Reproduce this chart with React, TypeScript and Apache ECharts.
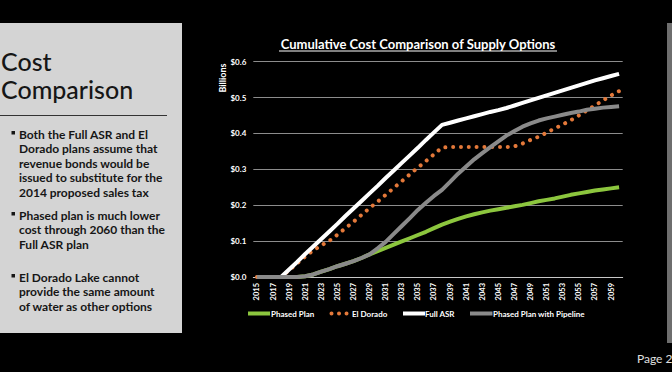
import React, { useEffect, useRef } from 'react';
import * as echarts from 'echarts';

const years = [
  2015, 2016, 2017, 2018, 2019, 2020, 2021, 2022, 2023, 2024,
  2025, 2026, 2027, 2028, 2029, 2030, 2031, 2032, 2033, 2034,
  2035, 2036, 2037, 2038, 2039, 2040, 2041, 2042, 2043, 2044,
  2045, 2046, 2047, 2048, 2049, 2050, 2051, 2052, 2053, 2054,
  2055, 2056, 2057, 2058, 2059, 2060,
];
const tickYears = [
  2015, 2017, 2019, 2021, 2023, 2025, 2027, 2029, 2031, 2033, 2035, 2037,
  2039, 2041, 2043, 2045, 2047, 2049, 2051, 2053, 2055, 2057, 2059,
];
const yTicks = [0, 0.1, 0.2, 0.3, 0.4, 0.5, 0.6];

const phasedPlan = [
  0, 0, 0, 0, 0, 0, 0.002, 0.007, 0.015, 0.022,
  0.030, 0.037, 0.044, 0.053, 0.063, 0.072, 0.081, 0.090, 0.099, 0.108,
  0.117, 0.126, 0.136, 0.146, 0.154, 0.162, 0.169, 0.175, 0.180, 0.185,
  0.189, 0.193, 0.197, 0.201, 0.206, 0.211, 0.215, 0.219, 0.224, 0.229,
  0.233, 0.237, 0.241, 0.244, 0.247, 0.250,
];
const elDorado = [
  0, 0, 0, 0, 0.019, 0.038, 0.057, 0.074, 0.088, 0.101,
  0.118, 0.136, 0.154, 0.173, 0.192, 0.210, 0.229, 0.248, 0.267, 0.286,
  0.305, 0.323, 0.342, 0.361, 0.362, 0.362, 0.362, 0.362, 0.362, 0.362,
  0.362, 0.362, 0.364, 0.372, 0.382, 0.391, 0.402, 0.414, 0.425, 0.437,
  0.450, 0.464, 0.478, 0.492, 0.506, 0.518,
];
const fullASR = [
  0, 0, 0, 0, 0.021, 0.042, 0.064, 0.085, 0.106, 0.127,
  0.148, 0.170, 0.191, 0.212, 0.233, 0.254, 0.276, 0.297, 0.318, 0.339,
  0.360, 0.382, 0.403, 0.424, 0.430, 0.436, 0.442, 0.448, 0.454, 0.460,
  0.465, 0.471, 0.478, 0.485, 0.492, 0.499, 0.506, 0.513, 0.520, 0.527,
  0.534, 0.541, 0.548, 0.554, 0.560, 0.566,
];
const phasedPipeline = [
  0, 0, 0, 0, 0, 0, 0.002, 0.007, 0.015, 0.022,
  0.030, 0.037, 0.044, 0.053, 0.063, 0.080, 0.098, 0.120, 0.142, 0.164,
  0.187, 0.207, 0.226, 0.243, 0.265, 0.288, 0.308, 0.328, 0.345, 0.362,
  0.378, 0.394, 0.407, 0.419, 0.428, 0.436, 0.442, 0.447, 0.452, 0.457,
  0.461, 0.466, 0.469, 0.472, 0.474, 0.476,
];

const seriesNames = ['Phased Plan', 'El Dorado', 'Full ASR', 'Phased Plan with Pipeline'];
const seriesColors = ['#8cc63e', '#e4793a', '#ffffff', '#8a8a8a'];

const chartTitle = 'Cumulative Cost Comparison of Supply Options';
const yAxisName = 'Billions';
const slideTitle = ['Cost', 'Comparison'];
const bullets = [
  [
    'Both the Full ASR and El',
    'Dorado plans assume that',
    'revenue bonds would be',
    'issued to substitute for the',
    '2014 proposed sales tax',
  ],
  ['Phased plan is much lower', 'cost through 2060 than the', 'Full ASR plan'],
  ['El Dorado Lake cannot', 'provide the same amount', 'of water as other options'],
];
const pageLabel = 'Page 2';

const FONT = 'Lato, "Open Sans", sans-serif';

function txt(x: number, y: number, text: string, size: number, color: string, weight: string, align = 'left', extra: any = {}) {
  return {
    type: 'text',
    x,
    y,
    silent: true,
    ...extra,
    style: {
      text,
      fill: color,
      font: `${weight} ${size}px ${FONT}`,
      align,
      verticalAlign: 'middle',
      textAlign: align,
      textVerticalAlign: 'middle',
    },
  };
}

export default function App() {
  const ref = useRef<HTMLDivElement>(null);
  useEffect(() => {
    const chart = echarts.init(ref.current!, null, { renderer: 'svg' });
    const pair = (vals: number[]) => years.map((y, i) => [y, vals[i]]);
    const dark = '#161616';

    const graphic: any[] = [];
    // left panel
    graphic.push({ type: 'rect', shape: { x: 0, y: 23, width: 182, height: 310 }, style: { fill: '#d4d4d4' }, silent: true });
    graphic.push(txt(1, 61, slideTitle[0], 25, dark, '500'));
    graphic.push(txt(1, 89, slideTitle[1], 25, dark, '500'));
    graphic.push({ type: 'line', shape: { x1: 0, y1: 115.5, x2: 167, y2: 115.5 }, style: { stroke: '#333', lineWidth: 1 }, silent: true });
    const groupStarts = [134, 215, 277];
    bullets.forEach((lines, g) => {
      const y0 = groupStarts[g];
      graphic.push({ type: 'rect', shape: { x: 11.5, y: y0 - 3, width: 3.5, height: 3.5 }, style: { fill: dark }, silent: true });
      lines.forEach((l, i) => graphic.push(txt(19, y0 + i * 14.6, l, 12, dark, 'bold')));
    });
    // right panel
    graphic.push({ type: 'rect', shape: { x: 667, y: 23, width: 5, height: 320 }, style: { fill: '#6e6e6e' }, silent: true });
    graphic.push(txt(637, 358, pageLabel, 12, '#e0e0e0', 'normal'));
    // chart title
    graphic.push(txt(418, 44, chartTitle, 13, '#ffffff', 'bold', 'center'));
    graphic.push({ type: 'line', shape: { x1: 279, y1: 51, x2: 557, y2: 51 }, style: { stroke: '#fff', lineWidth: 1 }, silent: true });
    // y axis name
    graphic.push(txt(222, 78, yAxisName, 9, '#ffffff', 'bold', 'center', { rotation: Math.PI / 2 }));
    // legend
    const legY = 313.5;
    const legItems = [
      { x1: 248, x2: 270, tx: 271 },
      { x1: 331.5, x2: 347, tx: 352 },
      { x1: 403, x2: 425, tx: 425 },
      { x1: 470, x2: 492.5, tx: 493 },
    ];
    legItems.forEach((it, i) => {
      const dotted = i === 1;
      graphic.push({
        type: 'line',
        silent: true,
        shape: { x1: it.x1, y1: legY, x2: it.x2, y2: legY },
        style: {
          stroke: seriesColors[i],
          lineWidth: 4,
          lineCap: dotted ? 'round' : 'butt',
          lineDash: dotted ? [0.01, 7.5] : null,
        },
      });
      graphic.push(txt(it.tx, legY, seriesNames[i], 8, '#ffffff', 'bold'));
    });

    const seriesData = [phasedPlan, elDorado, fullASR, phasedPipeline];

    chart.setOption({
      animation: false,
      backgroundColor: '#000000',
      grid: { left: 253.3, right: 49.3, top: 61.7, bottom: 95, containLabel: false },
      xAxis: {
        type: 'value',
        min: 2014.55,
        max: 2060.45,
        splitLine: { show: false },
        axisTick: { show: false },
        axisLine: { show: true, lineStyle: { color: '#c8c8c8', width: 1 } },
        axisLabel: {
          customValues: tickYears,
          rotate: 90,
          color: '#ffffff',
          fontSize: 7.5,
          fontWeight: 'bold',
          fontFamily: FONT,
          margin: 6,
          formatter: (v: number) => String(v),
        },
      },
      yAxis: {
        type: 'value',
        min: yTicks[0],
        max: yTicks[yTicks.length - 1],
        interval: 0.1,
        axisLine: { show: false },
        axisTick: { show: false },
        splitLine: { lineStyle: { color: '#8c8c8c', width: 1 } },
        axisLabel: {
          color: '#ffffff',
          fontSize: 8,
          fontWeight: 'bold',
          fontFamily: FONT,
          margin: 7,
          formatter: (v: number) => '$' + v.toFixed(1),
        },
      },
      series: seriesData.map((d, i) => ({
        type: 'line',
        name: seriesNames[i],
        data: pair(d),
        symbol: 'none',
        smooth: false,
        z: 2 + i,
        lineStyle: {
          color: seriesColors[i],
          width: 4,
          type: i === 1 ? [0.01, 7.8] : 'solid',
          cap: i === 1 ? 'round' : 'butt',
          join: 'round',
        },
      })),
      graphic,
    });
    return () => chart.dispose();
  }, []);
  return (
    <div
      ref={ref}
      style={{ position: 'absolute', left: 0, top: 0, width: 672, height: 372, background: '#000' }}
    />
  );
}
